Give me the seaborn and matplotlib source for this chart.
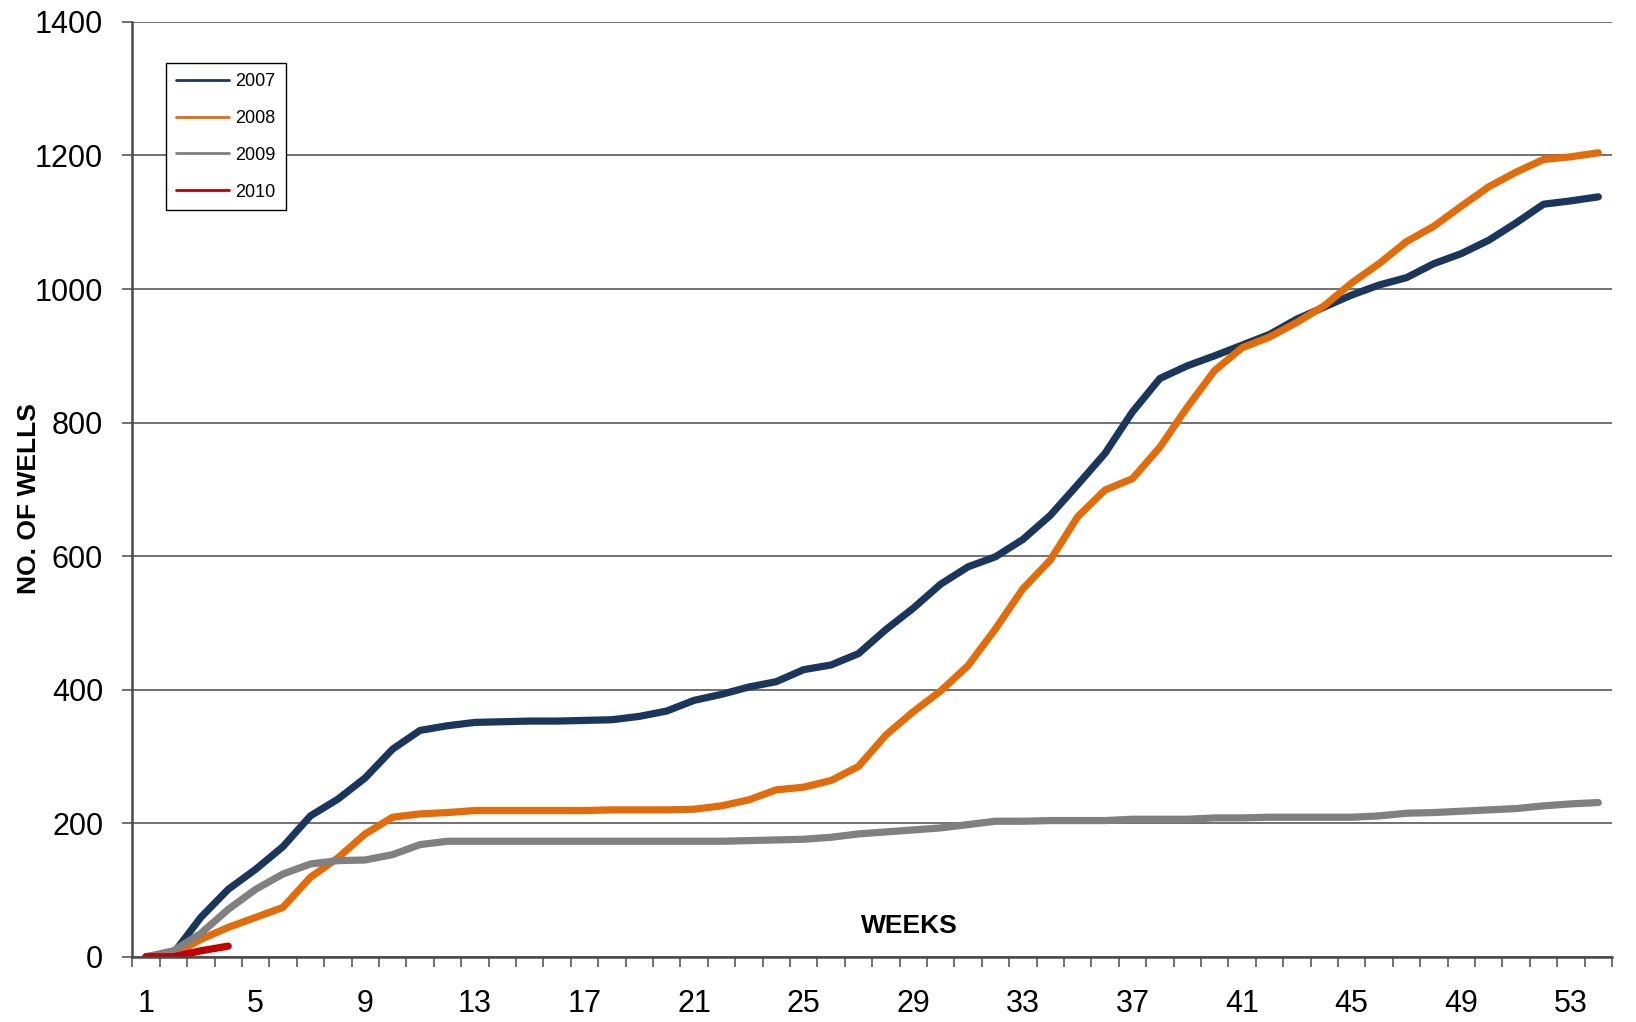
import matplotlib
matplotlib.use("Agg")
import matplotlib.pyplot as plt
from matplotlib.lines import Line2D
from matplotlib.ticker import FixedLocator
import seaborn as sns
import pandas as pd
import numpy as np

# ---- data -------------------------------------------------------------
years = ["2007", "2008", "2009", "2010"]
colors = ["#1a365d", "#e36c0a", "#808080", "#c00000"]

wells_2007 = [0, 5, 59, 101, 131, 165, 211, 236, 268, 311, 339, 346, 351, 352,
              353, 353, 354, 355, 360, 368, 384, 393, 404, 412, 430, 437, 454,
              490, 522, 558, 584, 599, 625, 661, 707, 754, 816, 866, 885, 900,
              916, 932, 955, 973, 991, 1006, 1017, 1038, 1053, 1073, 1099,
              1127, 1132, 1138]
wells_2008 = [0, 3, 26, 44, 59, 74, 119, 148, 184, 209, 214, 216, 219, 219,
              219, 219, 219, 220, 220, 220, 221, 226, 235, 250, 254, 264, 285,
              332, 367, 398, 436, 491, 551, 594, 659, 699, 716, 763, 823, 878,
              912, 928, 950, 975, 1009, 1038, 1071, 1094, 1124, 1153, 1175,
              1194, 1198, 1204]
wells_2009 = [0, 9, 35, 71, 101, 124, 139, 144, 145, 153, 168, 173, 173, 173,
              173, 173, 173, 173, 173, 173, 173, 173, 174, 175, 176, 179, 184,
              187, 190, 193, 198, 203, 203, 204, 204, 204, 206, 206, 206, 208,
              208, 209, 209, 209, 209, 211, 215, 216, 218, 220, 222, 226, 229,
              231]
wells_2010 = [0, 0, 9, 16]

week_labels = ["1", "5", "9", "13", "17", "21", "25", "29", "33", "37", "41",
               "45", "49", "53"]
y_ticks = [0, 200, 400, 600, 800, 1000, 1200, 1400]

series = [wells_2007, wells_2008, wells_2009, wells_2010]
frames = []
for yr, vals in zip(years, series):
    frames.append(pd.DataFrame({"week": np.arange(1, len(vals) + 1),
                                "wells": vals, "year": yr}))
df = pd.concat(frames, ignore_index=True)
n_weeks = len(wells_2007)

# ---- style ------------------------------------------------------------
sns.set_style("white")
plt.rcParams["font.family"] = ["Liberation Sans", "DejaVu Sans"]
plt.rcParams["text.color"] = "black"
plt.rcParams["xtick.color"] = "black"
plt.rcParams["ytick.color"] = "black"

W, H = 1636, 1022
fig = plt.figure(figsize=(W / 100, H / 100), dpi=100)
ax = fig.add_axes([132.3 / W, 1 - 956.8 / H, 1479.7 / W, 934.9 / H])

palette = dict(zip(years, colors))
sns.lineplot(data=df, x="week", y="wells", hue="year", palette=palette,
             linewidth=5.2, legend=False, ax=ax, sort=False,
             solid_capstyle="round", zorder=3)

ax.set_xlim(0.5, n_weeks + 0.5)
ax.set_ylim(0, 1400)

# grid & spines
ax.yaxis.set_major_locator(FixedLocator(y_ticks))
ax.grid(axis="y", color="#4a4a4a", linewidth=1.1, zorder=0)
ax.grid(axis="x", visible=False)
for s in ["top", "right"]:
    ax.spines[s].set_visible(False)
for s in ["left", "bottom"]:
    ax.spines[s].set_color("#4a4a4a")
    ax.spines[s].set_linewidth(1.8)
    ax.spines[s].set_zorder(4)

# x ticks: labels at categories, tick marks at category boundaries
ax.xaxis.set_major_locator(FixedLocator([int(l) for l in week_labels]))
ax.set_xticklabels(week_labels)
ax.xaxis.set_minor_locator(FixedLocator(np.arange(0.5, n_weeks + 1, 1.0)))
ax.tick_params(axis="x", which="major", length=0, pad=23, labelsize=22,
               labelcolor="black")
ax.tick_params(axis="x", which="minor", length=7, width=1.1,
               color="#4a4a4a", direction="out", bottom=True)
ax.tick_params(axis="y", which="major", length=7, width=1.1,
               color="#4a4a4a", direction="out", left=True, pad=14,
               labelsize=22, labelcolor="black")

ax.set_xlabel("")
ax.set_ylabel("")
fig.text(0.0175, 1 - 498.3 / H, "NO. OF WELLS", rotation=90, ha="center",
         va="center", fontsize=19, fontweight="bold", color="black")
ax.text(0.525, 0.0251, "WEEKS", transform=ax.transAxes, ha="center",
        va="baseline", fontsize=19, fontweight="bold", color="black")

# legend
handles = [Line2D([0], [0], color=c, lw=2.0) for c in colors]
leg = ax.legend(handles, years, loc="upper left",
                bbox_to_anchor=(0.0228, 0.956), borderaxespad=0,
                fontsize=13, frameon=True, fancybox=False,
                edgecolor="black", framealpha=1, handlelength=2.95,
                handletextpad=0.35, labelspacing=1.1, borderpad=0.55)
leg.get_frame().set_linewidth(1.0)
leg.set_zorder(5)
for t in leg.get_texts():
    t.set_color("black")

fig.savefig("out.png", dpi=100)
